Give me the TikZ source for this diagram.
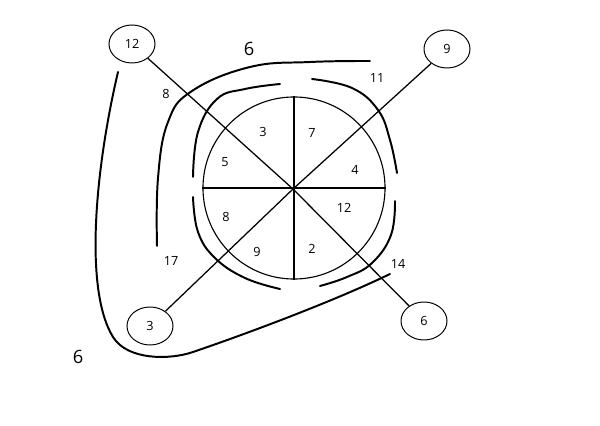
\documentclass[tikz,border=0pt]{standalone}
\usepackage{fontspec}
\setmainfont{Open Sans}
\usetikzlibrary{shapes.geometric}

\begin{document}
\begin{tikzpicture}[x=0.025cm, y=-0.025cm, font=\fontsize{9}{10}\selectfont]
    \tikzset{
      leaf/.style={draw, ellipse, minimum width=1.15cm, minimum height=0.95cm, inner sep=0pt, line width=0.7pt},
      stroke/.style={line width=1.4pt, line cap=round},
      spoke/.style={line width=0.9pt},
      bignum/.style={font=\fontsize{13}{15}\selectfont}
    }
    \useasboundingbox (0,0) rectangle (600,426);

    % 1. wheel with its cross spokes
    \coordinate (c) at (293,189);
    \node[draw, circle, minimum size=4.55cm, inner sep=0pt, line width=0.8pt] (wheel) at (294,188) {};
    \draw[spoke] (wheel.north) -- (wheel.south);
    \draw[spoke] (wheel.west) -- (wheel.east);

    % 2. outer ellipses and the diagonals through the centre
    \node[leaf] (e12) at (132,44) {12};
    \node[leaf] (e9)  at (447,49) {9};
    \node[leaf] (e3)  at (150,326) {3};
    \node[leaf] (e6)  at (424,321) {6};
    \draw[spoke] (e12) -- (c) -- (e6);
    \draw[spoke] (e9) -- (c) -- (e3);

    % 3. sector numbers
    \foreach \x/\y/\t in {263/132/3, 312/133/7, 225/162/5, 355/170/4,
                          226/217/8, 344/208/12, 257/252/9, 312/249/2}{
      \node (s\t\x) at (\x,\y) {\t};
    }

    % 4. inner broken ring
    \draw[stroke] plot[smooth, tension=0.7] coordinates
      {(193,177) (198,132) (217,99) (245,89) (280,84)};
    \draw[stroke] plot[smooth, tension=0.7] coordinates
      {(312,79) (352,88) (378,110) (390,140) (397,173)};
    \draw[stroke] plot[smooth, tension=0.7] coordinates
      {(395,201) (391,235) (372,263) (347,277) (320,286)};
    \draw[stroke] plot[smooth, tension=0.7] coordinates
      {(193,197) (198,232) (215,258) (245,278) (280,289)};

    % 5. outer strokes
    \draw[stroke] plot[smooth, tension=0.7] coordinates
      {(157,246) (158,178) (168,122) (192,91) (250,67) (310,62) (370,61)};
    \draw[stroke] (118,72) .. controls (95,170) and (84,290) .. (113,337)
                  .. controls (127.5,360.5) and (170,360) .. (193,352)
                  .. controls (240,336) and (330,303) .. (390,274);

    % 6. loose numbers
    \node[bignum] (top6) at (249,49) {6};
    \node[bignum] (low6) at (78,357) {6};
    \node (n8)  at (166,94)  {8};
    \node (n11) at (377,78)  {11};
    \node (n17) at (171,261) {17};
    \node (n14) at (398,264) {14};

\end{tikzpicture}
\end{document}
